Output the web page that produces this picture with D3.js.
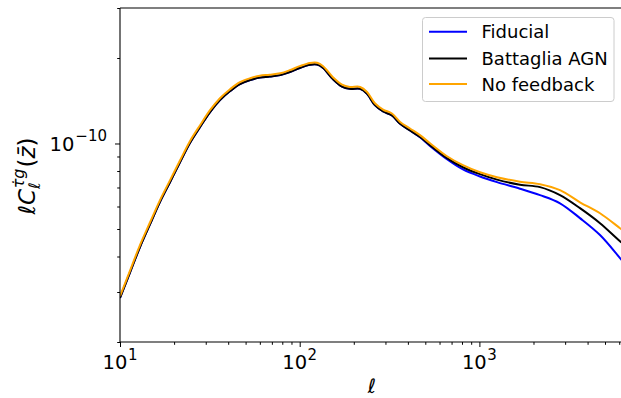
<!DOCTYPE html>
<html>
<head>
<meta charset="utf-8">
<script src="https://cdn.jsdelivr.net/npm/d3@7"></script>
<style>
  html, body { margin: 0; padding: 0; background: #fff; }
  svg { display: block; font-family: "DejaVu Sans", sans-serif; }
</style>
</head>
<body>
<svg id="chart" width="621" height="398"></svg>
<script>
// Multipole moments
const ell = [10, 11.4, 12.9, 14.7, 16.7, 19, 21.6, 24.5, 27.9, 31.7, 36, 41, 46.5, 53, 60, 68, 78, 88,
  100, 114, 125, 135, 153, 172, 190, 217, 237, 262, 291, 326, 362, 411, 467, 531, 660,
  810, 1008, 1253, 1682, 2174, 2809, 3628, 4690, 6060, 6900];

// ℓ C_ℓ^{τ̇g} for each model
const fiducial = [2.86e-11, 3.53e-11, 4.31e-11, 5.20e-11, 6.23e-11, 7.32e-11, 8.60e-11, 1.004e-10, 1.143e-10,
  1.290e-10, 1.422e-10, 1.530e-10, 1.619e-10, 1.673e-10, 1.707e-10, 1.721e-10, 1.741e-10, 1.785e-10,
  1.844e-10, 1.893e-10, 1.896e-10, 1.844e-10, 1.686e-10, 1.587e-10, 1.558e-10, 1.558e-10, 1.496e-10,
  1.365e-10, 1.297e-10, 1.256e-10, 1.173e-10, 1.112e-10, 1.052e-10, 9.80e-11, 8.80e-11,
  8.10e-11, 7.65e-11, 7.31e-11, 6.93e-11, 6.58e-11, 6.16e-11, 5.46e-11, 4.76e-11, 3.95e-11, 3.58e-11];

const battaglia = [2.86e-11, 3.53e-11, 4.31e-11, 5.20e-11, 6.23e-11, 7.32e-11, 8.60e-11, 1.004e-10, 1.143e-10,
  1.290e-10, 1.422e-10, 1.530e-10, 1.619e-10, 1.673e-10, 1.707e-10, 1.721e-10, 1.741e-10, 1.785e-10,
  1.844e-10, 1.893e-10, 1.896e-10, 1.844e-10, 1.686e-10, 1.587e-10, 1.558e-10, 1.558e-10, 1.496e-10,
  1.365e-10, 1.297e-10, 1.256e-10, 1.173e-10, 1.112e-10, 1.054e-10, 9.87e-11, 8.88e-11,
  8.25e-11, 7.80e-11, 7.46e-11, 7.16e-11, 7.02e-11, 6.58e-11, 5.92e-11, 5.24e-11, 4.53e-11, 4.24e-11];

const noFeedback = [2.90e-11, 3.58e-11, 4.38e-11, 5.28e-11, 6.32e-11, 7.43e-11, 8.73e-11, 1.019e-10, 1.160e-10,
  1.310e-10, 1.444e-10, 1.553e-10, 1.644e-10, 1.698e-10, 1.733e-10, 1.747e-10, 1.768e-10, 1.812e-10,
  1.872e-10, 1.922e-10, 1.925e-10, 1.872e-10, 1.712e-10, 1.611e-10, 1.582e-10, 1.582e-10, 1.519e-10,
  1.386e-10, 1.317e-10, 1.275e-10, 1.191e-10, 1.129e-10, 1.070e-10, 1.002e-10, 9.02e-11,
  8.39e-11, 7.92e-11, 7.61e-11, 7.34e-11, 7.19e-11, 6.85e-11, 6.21e-11, 5.68e-11, 5.03e-11, 4.72e-11];

const seriesNames = ["Fiducial", "Battaglia AGN", "No feedback"];
const seriesColors = ["#0000ff", "#000000", "#ffa500"];
const seriesValues = [fiducial, battaglia, noFeedback];

const xMajorTicks = [10, 100, 1000];
const xTickExponents = ["1", "2", "3"];
const yMajorTicks = [1e-10];
const yTickExponents = ["\u221210"];

const svg = d3.select("#chart");
const plotLeft = 120, plotTop = 8, plotBottom = 342;
const decadePx = 179.7;
const xMax = 7000;
const plotRight = plotLeft + decadePx * Math.log10(xMax / 10);

const x = d3.scaleLog().domain([10, xMax]).range([plotLeft, plotRight]);
const y = d3.scaleLog().domain([2e-11, 3e-10]).range([plotBottom, plotTop]);

svg.append("clipPath").attr("id", "plotClip")
  .append("rect").attr("x", plotLeft).attr("y", plotTop)
  .attr("width", plotRight - plotLeft).attr("height", plotBottom - plotTop);

// minor ticks
const xMinor = [];
for (const d of [10, 100, 1000]) for (let k = 2; k <= 9; k++) if (d * k <= xMax) xMinor.push(d * k);
const yMinor = [];
for (const d of [1e-11, 1e-10]) for (let k = 2; k <= 9; k++) {
  const v = d * k; if (v >= 2e-11 * 0.999 && v <= 3e-10 * 1.001) yMinor.push(v);
}

const xAxis = d3.axisBottom(x).tickValues(xMajorTicks).tickSize(5).tickFormat("");
const xAxisMinor = d3.axisBottom(x).tickValues(xMinor).tickSize(2.8).tickFormat("");
const yAxis = d3.axisLeft(y).tickValues(yMajorTicks).tickSize(5).tickFormat("");
const yAxisMinor = d3.axisLeft(y).tickValues(yMinor).tickSize(2.8).tickFormat("");

function styleAxis(g) {
  g.select(".domain").remove();
  g.selectAll(".tick line").attr("stroke", "#000").attr("stroke-width", 1);
}
svg.append("g").attr("transform", `translate(0,${plotBottom})`).call(xAxisMinor).call(styleAxis);
svg.append("g").attr("transform", `translate(0,${plotBottom})`).call(xAxis).call(styleAxis);
svg.append("g").attr("transform", `translate(${plotLeft},0)`).call(yAxisMinor).call(styleAxis);
svg.append("g").attr("transform", `translate(${plotLeft},0)`).call(yAxis).call(styleAxis);

// lines
const line = d3.line().x(d => x(d[0])).y(d => y(d[1])).curve(d3.curveCatmullRom.alpha(0.5));
const plot = svg.append("g").attr("clip-path", "url(#plotClip)");
seriesValues.forEach((vals, i) => {
  plot.append("path")
    .datum(ell.map((l, j) => [l, vals[j]]))
    .attr("fill", "none")
    .attr("stroke", seriesColors[i])
    .attr("stroke-width", 2)
    .attr("stroke-linejoin", "round")
    .attr("d", line);
});

// spines
const spine = (x1, y1, x2, y2) => svg.append("line")
  .attr("x1", x1).attr("y1", y1).attr("x2", x2).attr("y2", y2)
  .attr("stroke", "#000").attr("stroke-width", 1.1);
spine(plotLeft, plotBottom, plotRight, plotBottom);
spine(plotLeft, plotTop, plotRight, plotTop);
spine(plotLeft, plotTop, plotLeft, plotBottom);
spine(plotRight, plotTop, plotRight, plotBottom);

// tick labels
xMajorTicks.forEach((t, i) => {
  const tx = svg.append("text").attr("x", x(t)).attr("y", 369)
    .attr("text-anchor", "middle").attr("font-size", 19.5).attr("fill", "#000");
  tx.append("tspan").text("10");
  tx.append("tspan").attr("font-size", 15).attr("dx", 0.5).attr("dy", -9).text(xTickExponents[i]);
});
yMajorTicks.forEach((t, i) => {
  const ty = svg.append("text").attr("x", 107).attr("y", y(t) + 8)
    .attr("text-anchor", "end").attr("font-size", 19.5).attr("fill", "#000");
  ty.append("tspan").text("10");
  ty.append("tspan").attr("font-size", 15).attr("dx", 1).attr("dy", -10).text(yTickExponents[i]);
});

// axis titles
svg.append("text").attr("x", 372).attr("y", 393).attr("text-anchor", "middle")
  .attr("font-size", 20).attr("font-style", "italic").text("\u2113");

const yl = svg.append("text")
  .attr("transform", `translate(35,176) rotate(-90)`)
  .attr("text-anchor", "middle").attr("font-size", 23).attr("fill", "#000");
yl.append("tspan").attr("font-style", "italic").text("\u2113C");
yl.append("tspan").attr("font-style", "italic").attr("font-size", 16).attr("dy", 5).text("\u2113");
yl.append("tspan").attr("font-style", "italic").attr("font-size", 16).attr("dx", -6).attr("dy", -16).text("\u03C4\u0307g");
yl.append("tspan").attr("dx", 1).attr("dy", 11).text("(");
yl.append("tspan").attr("font-style", "italic").text("z\u0304");
yl.append("tspan").text(")");

// legend
const lg = svg.append("g");
lg.append("rect").attr("x", 422.5).attr("y", 17.5).attr("width", 191.5).attr("height", 84)
  .attr("rx", 3).attr("fill", "#fff").attr("fill-opacity", 0.8)
  .attr("stroke", "#cccccc").attr("stroke-width", 1);
const rowY = [31.7, 58.5, 84];
seriesNames.forEach((name, i) => {
  lg.append("line").attr("x1", 429).attr("x2", 467).attr("y1", rowY[i]).attr("y2", rowY[i])
    .attr("stroke", seriesColors[i]).attr("stroke-width", 2);
  lg.append("text").attr("x", 481.5).attr("y", rowY[i] + 6.5).attr("font-size", 18)
    .attr("fill", "#000").text(name);
});
</script>
</body>
</html>
